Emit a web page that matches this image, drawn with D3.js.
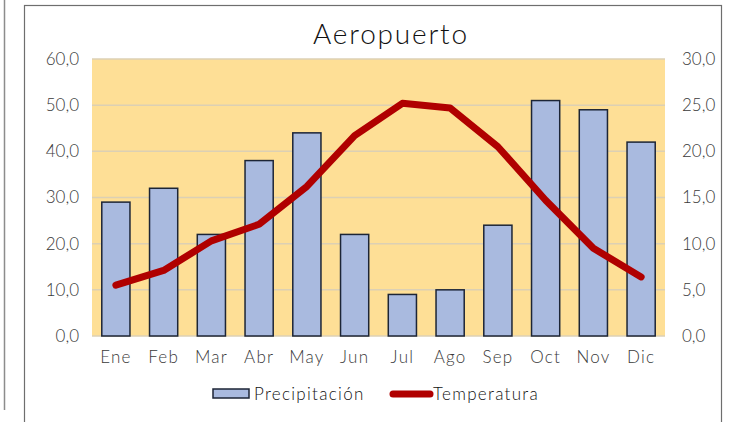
<!DOCTYPE html>
<html>
<head>
<meta charset="utf-8">
<script src="https://cdn.jsdelivr.net/npm/d3@7"></script>
<style>
  body { margin: 0; background: #fff; }
  svg text { font-family: "Lato", "DejaVu Sans", sans-serif; }
</style>
</head>
<body>
<svg id="chart" width="729" height="422"></svg>
<script>
var months = ['Ene', 'Feb', 'Mar', 'Abr', 'May', 'Jun', 'Jul', 'Ago', 'Sep', 'Oct', 'Nov', 'Dic'];
var precipitacion = [29, 32, 22, 38, 44, 22, 9, 10, 24, 51, 49, 42];
var temperatura = [5.5, 7.1, 10.3, 12.1, 16.2, 21.7, 25.2, 24.7, 20.5, 14.7, 9.5, 6.4];
var leftTicks = [0, 10, 20, 30, 40, 50, 60];
var rightTicks = [0, 5, 10, 15, 20, 25, 30];

var svg = d3.select('#chart');
var plot = {left: 92, right: 665, top: 59, bottom: 336};
var fmt = function(v) { return v.toFixed(1).replace('.', ','); };

// frames
svg.append('line').attr('x1', 4.5).attr('x2', 4.5).attr('y1', 0).attr('y2', 410)
    .attr('stroke', '#8c8c8c').attr('stroke-width', 1.5);
svg.append('rect').attr('x', 24.5).attr('y', 5.5).attr('width', 697).attr('height', 430)
    .attr('fill', 'none').attr('stroke', '#6e6e6e').attr('stroke-width', 1.2);

var x = d3.scaleBand().domain(months).range([plot.left, plot.right]).paddingInner(0.41).paddingOuter(0.205);
var xc = d3.scaleBand().domain(months).range([plot.left, plot.right]);
var yL = d3.scaleLinear().domain([0, 60]).range([plot.bottom, plot.top]);
var yR = d3.scaleLinear().domain([0, 30]).range([plot.bottom, plot.top]);

svg.append('rect').attr('x', plot.left).attr('y', plot.top)
    .attr('width', plot.right - plot.left).attr('height', plot.bottom - plot.top)
    .attr('fill', '#fedf96');

// gridlines
svg.append('g').selectAll('line').data(leftTicks).enter().append('line')
    .attr('x1', plot.left).attr('x2', plot.right)
    .attr('y1', function(d) { return yL(d); }).attr('y2', function(d) { return yL(d); })
    .attr('stroke', '#dcd0b4').attr('stroke-width', 1.5);

// bars
svg.append('g').selectAll('rect').data(precipitacion).enter().append('rect')
    .attr('x', function(d, i) { return x(months[i]); })
    .attr('width', x.bandwidth())
    .attr('y', function(d) { return yL(d); })
    .attr('height', function(d) { return yL(0) - yL(d); })
    .attr('fill', '#a9badf').attr('stroke', '#1c2536').attr('stroke-width', 1.5);

// temperature line
var line = d3.line()
    .x(function(d, i) { return xc(months[i]) + xc.bandwidth() / 2; })
    .y(function(d) { return yR(d); });
svg.append('path').datum(temperatura).attr('d', line)
    .attr('fill', 'none').attr('stroke', '#b00000').attr('stroke-width', 7)
    .attr('stroke-linecap', 'round').attr('stroke-linejoin', 'round');

// axes
var axL = svg.append('g').attr('transform', 'translate(' + (plot.left - 13) + ',0)')
    .call(d3.axisLeft(yL).tickValues(leftTicks).tickFormat(fmt).tickSize(0).tickPadding(0));
var axR = svg.append('g').attr('transform', 'translate(' + (plot.right + 17) + ',0)')
    .call(d3.axisRight(yR).tickValues(rightTicks).tickFormat(fmt).tickSize(0).tickPadding(0));
var axB = svg.append('g').attr('transform', 'translate(0,' + (plot.bottom + 12) + ')')
    .call(d3.axisBottom(xc).tickSize(0).tickPadding(0));
[axL, axR, axB].forEach(function(a) {
    a.select('.domain').remove();
    a.selectAll('text').style('font-size', '17px').style('font-weight', '300').style('fill', '#3a3a3a');
});
axB.selectAll('text').attr('dy', '0.9em').style('letter-spacing', '1.2px');

// title
svg.append('text').attr('x', 391).attr('y', 44).attr('text-anchor', 'middle')
    .style('font-size', '28px').style('font-weight', '300').style('letter-spacing', '1.8px')
    .style('fill', '#111').text('Aeropuerto');

// legend
var leg = svg.append('g');
leg.append('rect').attr('x', 213).attr('y', 389).attr('width', 36).attr('height', 9)
    .attr('fill', '#a9badf').attr('stroke', '#1c2536').attr('stroke-width', 1.5);
leg.append('text').attr('x', 254).attr('y', 400).style('font-size', '17px').style('font-weight', '300')
    .style('letter-spacing', '1.3px').style('fill', '#111').text('Precipitación');
leg.append('line').attr('x1', 393).attr('x2', 430).attr('y1', 394).attr('y2', 394)
    .attr('stroke', '#b00000').attr('stroke-width', 7).attr('stroke-linecap', 'round');
leg.append('text').attr('x', 433).attr('y', 400).style('font-size', '17px').style('font-weight', '300')
    .style('letter-spacing', '1.3px').style('fill', '#111').text('Temperatura');
</script>
</body>
</html>
